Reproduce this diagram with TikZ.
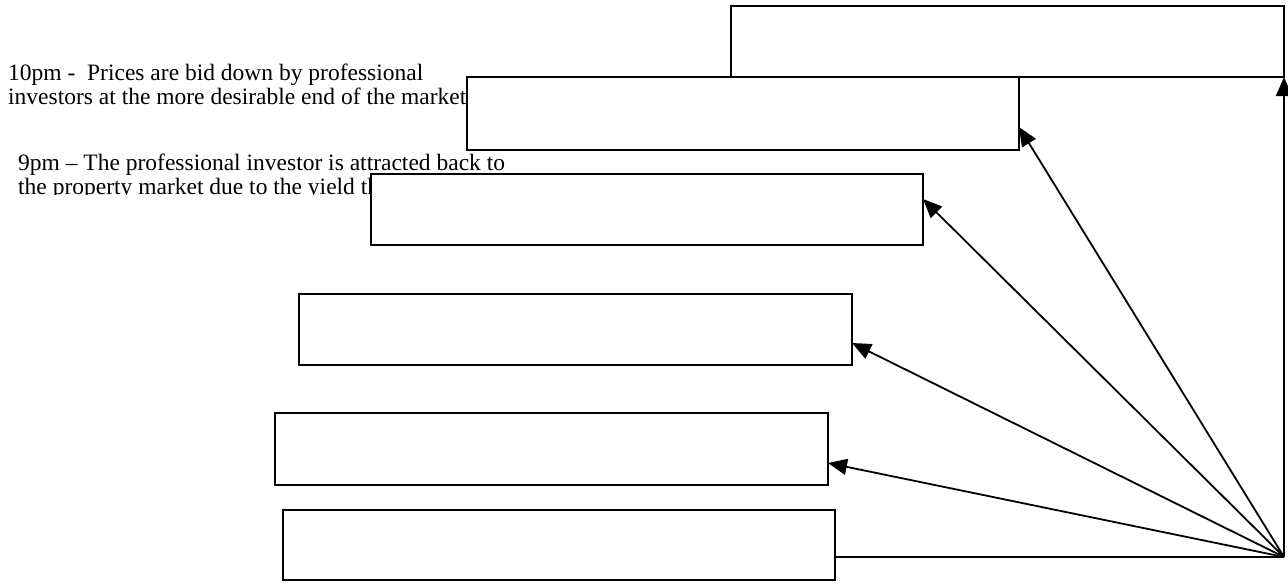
\documentclass[tikz,border=0pt]{standalone}
\usepackage{fontspec}
\setmainfont{Liberation Serif}
\usetikzlibrary{arrows.meta}
\begin{document}
\begin{tikzpicture}[x=1pt,y=-1pt,
  stagebox/.style={draw=black, line width=1.8pt, inner sep=0pt, outer sep=0pt, anchor=north west},
  note/.style={anchor=north west, inner sep=0pt, align=left,
    font=\fontsize{23.5}{24}\selectfont},
  link/.style={draw=black, line width=1.8pt},
  pointer/.style={link, -{Triangle[length=19pt,width=16pt]}}]
  \useasboundingbox (0,0) rectangle (1288,586);

  % 10pm note, left of the upper stage boxes
  \node[note] (t10) at (8,64) {10pm -\ \ Prices are bid down by professional\\investors at the more desirable end of the market};

  % top two stages
  \node[stagebox, fill=white, minimum width=553pt, minimum height=71pt] (A) at (731,6) {};
  \node[stagebox, minimum width=552pt, minimum height=73pt] (B) at (467,77) {};

  % 9pm note, its frame cuts off the descenders of the second line
  \begin{scope}
    \clip (0,140) rectangle (600,194.5);
    \node[note] (t9) at (18,154) {9pm -- The professional investor is attracted back to\\the property market due to the yield that};
  \end{scope}

  % remaining stages
  \node[stagebox, fill=white, minimum width=552pt, minimum height=71pt] (C) at (371,174) {};
  \node[stagebox, fill=white, minimum width=553pt, minimum height=71pt] (D) at (299,294) {};
  \node[stagebox, fill=white, minimum width=553pt, minimum height=72pt] (E) at (275,413) {};
  \node[stagebox, fill=white, minimum width=552pt, minimum height=70pt] (F) at (283,510) {};

  % common origin of the connectors
  \coordinate (O) at (1284,557);

  \draw[link] (F.east |- O) -- (O);
  \draw[pointer] (O) -- (O |- A.south);
  \draw[pointer] (O) -- ([yshift=-13.5pt]B.east);
  \draw[pointer] (O) -- ([yshift=10.5pt]C.east);
  \draw[pointer] (O) -- ([yshift=-13.5pt]D.east);
  \draw[pointer] (O) -- ([yshift=-14pt]E.east);
\end{tikzpicture}
\end{document}
